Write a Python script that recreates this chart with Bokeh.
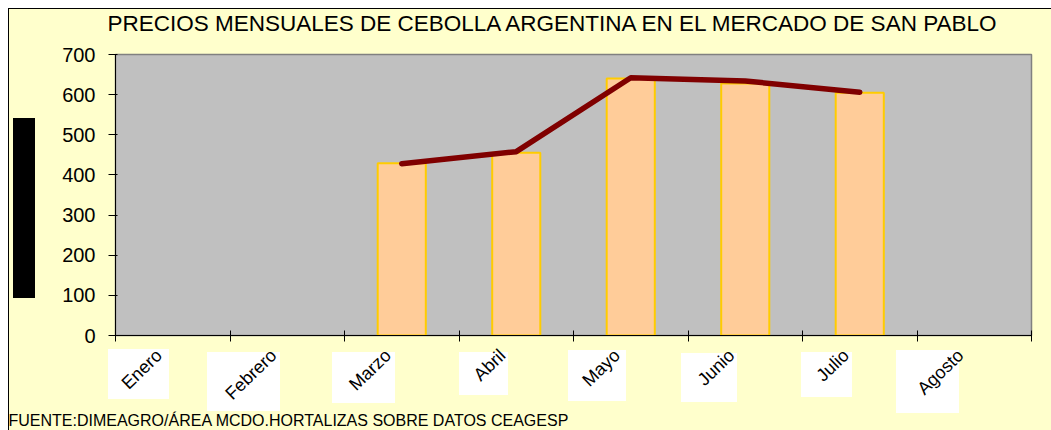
from bokeh.plotting import figure
from bokeh.models import FixedTicker, Title, ColumnDataSource
from bokeh.embed import file_html
from bokeh.resources import INLINE

# ---- data ----
months = ["Enero", "Febrero", "Marzo", "Abril", "Mayo", "Junio", "Julio", "Agosto"]
bar_months = ["Marzo", "Abril", "Mayo", "Junio", "Julio"]
bar_values = [429, 455, 640, 628, 605]
line_values = [428, 458, 642, 634, 606]
y_ticks = [0, 100, 200, 300, 400, 500, 600, 700]
title_text = "PRECIOS MENSUALES DE CEBOLLA ARGENTINA EN EL MERCADO DE SAN PABLO"
source_text = "FUENTE:DIMEAGRO/ÁREA MCDO.HORTALIZAS SOBRE DATOS CEAGESP"

FONT = "Liberation Sans"

xpos = [months.index(m) + 0.5 for m in bar_months]
src = ColumnDataSource(dict(x=xpos, bar=bar_values, line=line_values))

p = figure(width=1043, height=422, output_backend="svg", toolbar_location=None,
           x_range=(0, len(months)), y_range=(0, 700))
p.min_border_left = 107
p.min_border_right = 20
p.min_border_top = 46
p.min_border_bottom = 95
p.background_fill_color = "#C0C0C0"
p.border_fill_color = None
p.outline_line_color = "#808080"
p.outline_line_width = 1.5
p.grid.visible = False

# page decoration drawn behind the (transparent) canvas border area:
# chart border, the blacked-out axis title block, white boxes behind month names
deco_boxes = [(100, 341, 61, 50), (199, 344, 73, 59), (324, 344, 63, 51),
              (451, 344, 49, 43), (560, 342, 58, 51), (673, 345, 56, 49),
              (793, 344, 51, 45), (888, 342, 63, 63)]
layers = ["linear-gradient(#000,#000) 0px 0px / 1px 100% no-repeat",
          "linear-gradient(#000,#000) 0px 0px / 100% 1px no-repeat",
          "linear-gradient(#000,#000) 5px 110px / 22px 180px no-repeat"]
layers += [f"linear-gradient(#fff,#fff) {bx}px {by}px / {bw}px {bh}px no-repeat"
           for bx, by, bw, bh in deco_boxes]
p.styles = {"margin-left": "8px", "margin-top": "8px",
            "background": ", ".join(layers) + ", #FFFFCC"}

p.vbar(x="x", top="bar", width=0.42, source=src, fill_color="#FFCC99",
       line_color="#FFCC00", line_width=2)
p.line(x="x", y="line", source=src, line_color="#800000", line_width=5.5,
       line_cap="round", line_join="round")

# y axis
p.yaxis.ticker = FixedTicker(ticks=y_ticks)
p.yaxis.axis_line_color = "black"
p.yaxis.major_tick_line_color = "black"
p.yaxis.major_tick_out = 7
p.yaxis.major_tick_in = 2
p.yaxis.minor_tick_line_color = None
p.yaxis.major_label_text_font = FONT
p.yaxis.major_label_text_font_size = "20px"
p.yaxis.major_label_text_color = "black"
p.yaxis.major_label_standoff = 13

# x axis: minor ticks at category boundaries, month names as major labels
label_pos = [i + 0.5 - 0.12 for i in range(len(months))]
p.xaxis.ticker = FixedTicker(ticks=label_pos, minor_ticks=list(range(len(months) + 1)))
p.xaxis.major_label_overrides = {pos: m for pos, m in zip(label_pos, months)}
p.xaxis.axis_line_color = "black"
p.xaxis.major_tick_line_color = None
p.xaxis.major_tick_out = 6
p.xaxis.major_tick_in = 0
p.xaxis.minor_tick_line_color = "black"
p.xaxis.minor_tick_out = 6
p.xaxis.minor_tick_in = 5
p.xaxis.major_label_orientation = 0.77
p.xaxis.major_label_standoff = 11
p.xaxis.major_label_text_font = FONT
p.xaxis.major_label_text_font_size = "18px"
p.xaxis.major_label_text_color = "black"

# source line at the bottom
p.add_layout(Title(text=source_text, align="left", offset=-107, standoff=-8,
                   text_font=FONT, text_font_size="16px", text_font_style="normal",
                   text_color="black"), "below")

# spacer above the frame, then the title
p.add_layout(Title(text=" ", standoff=14, text_font_size="1px"), "above")
p.add_layout(Title(text=title_text, align="left", offset=-8, standoff=0,
                   vertical_align="top",
                   text_font=FONT, text_font_size="22.5px", text_font_style="normal",
                   text_color="black"), "above")

open("out.html", "w").write(file_html(p, INLINE))
